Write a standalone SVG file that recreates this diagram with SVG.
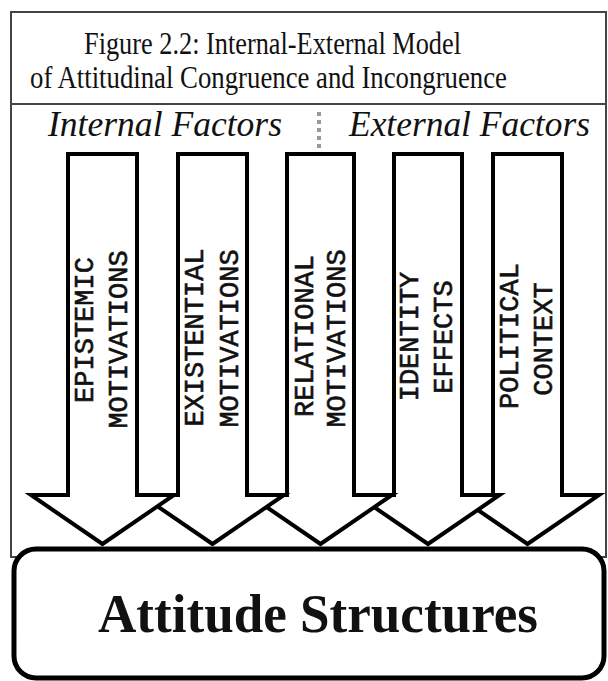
<svg xmlns="http://www.w3.org/2000/svg" width="608" height="681" viewBox="0 0 608 681">
<style>
.frame{fill:none;stroke:#444;stroke-width:2}
.arrow{fill:#fff;stroke:#000;stroke-width:4;stroke-linejoin:miter;stroke-miterlimit:10}
.serif{font-family:"Liberation Serif","Times New Roman",serif;fill:#111}
.v{font-family:"Liberation Mono","Courier New",monospace;font-size:27px;fill:#111;stroke:#111;stroke-width:0.6;text-anchor:middle}
</style>
<rect width="608" height="681" fill="#fff"/>
<g id="frame">
<rect class="frame" x="11" y="12" width="595" height="545"/>
<line class="frame" x1="11" y1="104" x2="606" y2="104" stroke-width="2.5"/>
</g>
<g id="title">
<text class="serif" x="84" y="54" font-size="31" textLength="377" lengthAdjust="spacingAndGlyphs">Figure 2.2: Internal-External Model</text>
<text class="serif" x="30" y="88" font-size="31" textLength="477" lengthAdjust="spacingAndGlyphs">of Attitudinal Congruence and Incongruence</text>
</g>
<g id="headers">
<text class="serif" x="48" y="136" font-size="35" font-style="italic" textLength="234" lengthAdjust="spacingAndGlyphs">Internal Factors</text>
<text class="serif" x="349" y="136" font-size="35" font-style="italic" textLength="241" lengthAdjust="spacingAndGlyphs">External Factors</text>
<line x1="319" y1="112" x2="319" y2="152" stroke="#999" stroke-width="4" stroke-dasharray="4 4"/>
</g>
<g id="connectors">
<g id="arrow-political">
<path class="arrow" d="M493,154 H562 V495 H599 L527.5,544 L456,495 H493 Z"/>
<text class="v" transform="translate(518,336) rotate(-90)">POLITICAL</text>
<text class="v" transform="translate(552,339) rotate(-90)">CONTEXT</text>
</g>
<g id="arrow-identity">
<path class="arrow" d="M394,154 H462 V495 H499.5 L428,544 L356.5,495 H394 Z"/>
<text class="v" transform="translate(418,336.5) rotate(-90)">IDENTITY</text>
<text class="v" transform="translate(452,337) rotate(-90)">EFFECTS</text>
</g>
<g id="arrow-relational">
<path class="arrow" d="M287,154 H354 V495 H392 L320.5,544 L249,495 H287 Z"/>
<text class="v" transform="translate(313,336) rotate(-90)">RELATIONAL</text>
<text class="v" transform="translate(345,338.5) rotate(-90)">MOTIVATIONS</text>
</g>
<g id="arrow-existential">
<path class="arrow" d="M178,154 H247 V495 H284 L212.5,544 L141,495 H178 Z"/>
<text class="v" transform="translate(203,337.5) rotate(-90)">EXISTENTIAL</text>
<text class="v" transform="translate(238,338.5) rotate(-90)">MOTIVATIONS</text>
</g>
<g id="arrow-epistemic">
<path class="arrow" d="M68,154 H137 V495 H174 L102.5,544 L31,495 H68 Z"/>
<text class="v" transform="translate(93,330) rotate(-90)">EPISTEMIC</text>
<text class="v" transform="translate(127,339.5) rotate(-90)">MOTIVATIONS</text>
</g>
</g>
<g id="attitude-structures">
<rect x="14" y="549" width="590" height="129" rx="22" ry="22" fill="#fff" stroke="#000" stroke-width="5"/>
<text class="serif" x="318" y="632" font-size="55" font-weight="bold" text-anchor="middle" textLength="440" lengthAdjust="spacingAndGlyphs">Attitude Structures</text>
</g>
</svg>
